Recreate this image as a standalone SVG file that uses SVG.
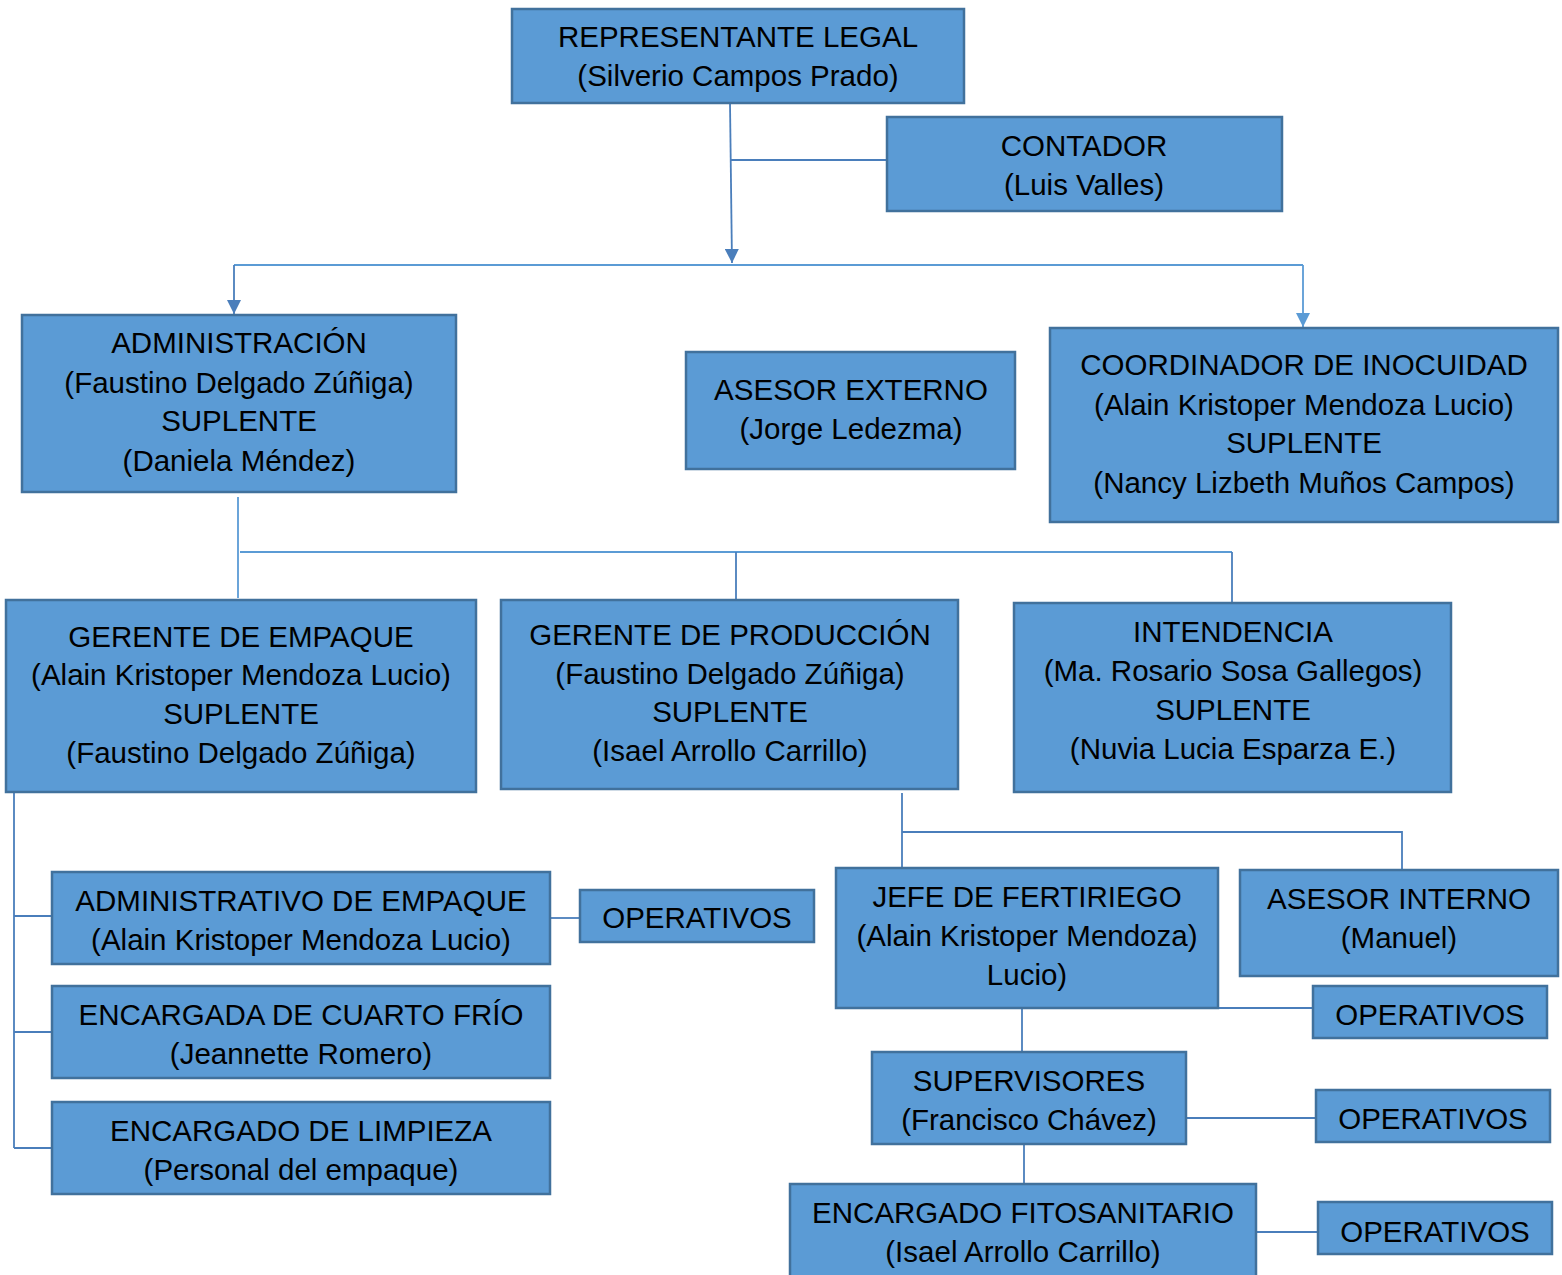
<svg xmlns="http://www.w3.org/2000/svg" width="1562" height="1275" viewBox="0 0 1562 1275">
<style>
.b{fill:#5B9BD5;stroke:#41719C;stroke-width:2.5}
.t{font-family:"Liberation Sans",Arial,sans-serif;font-size:29.5px;fill:#000;text-anchor:middle}
.c{fill:none;stroke:#4A7EBB;stroke-width:1.8}
.cl{fill:none;stroke:#5B9BD5;stroke-width:1.8}
</style>
<defs>
<marker id="ah" viewBox="0 0 10 10" refX="10" refY="5" markerWidth="14" markerHeight="14" orient="auto" markerUnits="userSpaceOnUse"><path d="M0,0 L10,5 L0,10 Z" fill="#4A7EBB"/></marker>
<marker id="ah2" viewBox="0 0 10 10" refX="10" refY="5" markerWidth="14" markerHeight="14" orient="auto" markerUnits="userSpaceOnUse"><path d="M0,0 L10,5 L0,10 Z" fill="#5B9BD5"/></marker>
</defs>
<rect width="1562" height="1275" fill="#fff"/>
<g id="connectors">
<path class="c" d="M730,103 L732,263" marker-end="url(#ah)"/>
<path class="c" d="M731,160 H887"/>
<path class="cl" d="M234,265 H1303"/>
<path class="c" d="M234,265 V314" marker-end="url(#ah)"/>
<path class="cl" d="M1303,265 V327" marker-end="url(#ah2)"/>
<path class="cl" d="M238,497 V598"/>
<path class="cl" d="M240,552 H1232"/>
<path class="c" d="M736,552 V600"/>
<path class="c" d="M1232,552 V603"/>
<path class="c" d="M14,792 V1148"/>
<path class="c" d="M14,916 H52 M14,1032 H52 M14,1148 H52"/>
<path class="c" d="M550,918 H580"/>
<path class="c" d="M902,793 V868"/>
<path class="c" d="M902,832 H1402 V870"/>
<path class="c" d="M1218,1008 H1313"/>
<path class="c" d="M1022,1008 V1052"/>
<path class="c" d="M1186,1118 H1316"/>
<path class="c" d="M1024,1144 V1184"/>
<path class="c" d="M1256,1232 H1318"/>
</g>
<g id="representante"><rect class="b" x="512" y="9" width="452" height="94"/><text class="t" x="738" y="47">REPRESENTANTE LEGAL</text><text class="t" x="738" y="86">(Silverio Campos Prado)</text></g>
<g id="contador"><rect class="b" x="887" y="117" width="395" height="94"/><text class="t" x="1084" y="156">CONTADOR</text><text class="t" x="1084" y="195">(Luis Valles)</text></g>
<g id="administracion"><rect class="b" x="22" y="315" width="434" height="177"/><text class="t" x="239" y="353">ADMINISTRACIÓN</text><text class="t" x="239" y="393">(Faustino Delgado Zúñiga)</text><text class="t" x="239" y="431">SUPLENTE</text><text class="t" x="239" y="471">(Daniela Méndez)</text></g>
<g id="asesor-externo"><rect class="b" x="686" y="352" width="329" height="117"/><text class="t" x="851" y="400">ASESOR EXTERNO</text><text class="t" x="851" y="439">(Jorge Ledezma)</text></g>
<g id="coordinador"><rect class="b" x="1050" y="328" width="508" height="194"/><text class="t" x="1304" y="375">COORDINADOR DE INOCUIDAD</text><text class="t" x="1304" y="415">(Alain Kristoper Mendoza Lucio)</text><text class="t" x="1304" y="453">SUPLENTE</text><text class="t" x="1304" y="493">(Nancy Lizbeth Muños Campos)</text></g>
<g id="gerente-empaque"><rect class="b" x="6" y="600" width="470" height="192"/><text class="t" x="241" y="647">GERENTE DE EMPAQUE</text><text class="t" x="241" y="685">(Alain Kristoper Mendoza Lucio)</text><text class="t" x="241" y="724">SUPLENTE</text><text class="t" x="241" y="763">(Faustino Delgado Zúñiga)</text></g>
<g id="gerente-produccion"><rect class="b" x="501" y="600" width="457" height="189"/><text class="t" x="730" y="645">GERENTE DE PRODUCCIÓN</text><text class="t" x="730" y="684">(Faustino Delgado Zúñiga)</text><text class="t" x="730" y="722">SUPLENTE</text><text class="t" x="730" y="761">(Isael Arrollo Carrillo)</text></g>
<g id="intendencia"><rect class="b" x="1014" y="603" width="437" height="189"/><text class="t" x="1233" y="642">INTENDENCIA</text><text class="t" x="1233" y="681">(Ma. Rosario Sosa Gallegos)</text><text class="t" x="1233" y="720">SUPLENTE</text><text class="t" x="1233" y="759">(Nuvia Lucia Esparza E.)</text></g>
<g id="administrativo-empaque"><rect class="b" x="52" y="872" width="498" height="92"/><text class="t" x="301" y="911">ADMINISTRATIVO DE EMPAQUE</text><text class="t" x="301" y="950">(Alain Kristoper Mendoza Lucio)</text></g>
<g id="operativos-1"><rect class="b" x="580" y="890" width="234" height="52"/><text class="t" x="697" y="928">OPERATIVOS</text></g>
<g id="cuarto-frio"><rect class="b" x="52" y="986" width="498" height="92"/><text class="t" x="301" y="1025">ENCARGADA DE CUARTO FRÍO</text><text class="t" x="301" y="1064">(Jeannette Romero)</text></g>
<g id="limpieza"><rect class="b" x="52" y="1102" width="498" height="92"/><text class="t" x="301" y="1141">ENCARGADO DE LIMPIEZA</text><text class="t" x="301" y="1180">(Personal del empaque)</text></g>
<g id="jefe-fertiriego"><rect class="b" x="836" y="868" width="382" height="140"/><text class="t" x="1027" y="907">JEFE DE FERTIRIEGO</text><text class="t" x="1027" y="946">(Alain Kristoper Mendoza)</text><text class="t" x="1027" y="985">Lucio)</text></g>
<g id="asesor-interno"><rect class="b" x="1240" y="870" width="318" height="106"/><text class="t" x="1399" y="909">ASESOR INTERNO</text><text class="t" x="1399" y="948">(Manuel)</text></g>
<g id="operativos-2"><rect class="b" x="1313" y="986" width="234" height="52"/><text class="t" x="1430" y="1025">OPERATIVOS</text></g>
<g id="supervisores"><rect class="b" x="872" y="1052" width="314" height="92"/><text class="t" x="1029" y="1091">SUPERVISORES</text><text class="t" x="1029" y="1130">(Francisco Chávez)</text></g>
<g id="operativos-3"><rect class="b" x="1316" y="1090" width="234" height="52"/><text class="t" x="1433" y="1129">OPERATIVOS</text></g>
<g id="fitosanitario"><rect class="b" x="790" y="1184" width="466" height="100"/><text class="t" x="1023" y="1223">ENCARGADO FITOSANITARIO</text><text class="t" x="1023" y="1262">(Isael Arrollo Carrillo)</text></g>
<g id="operativos-4"><rect class="b" x="1318" y="1202" width="234" height="52"/><text class="t" x="1435" y="1242">OPERATIVOS</text></g>
</svg>
